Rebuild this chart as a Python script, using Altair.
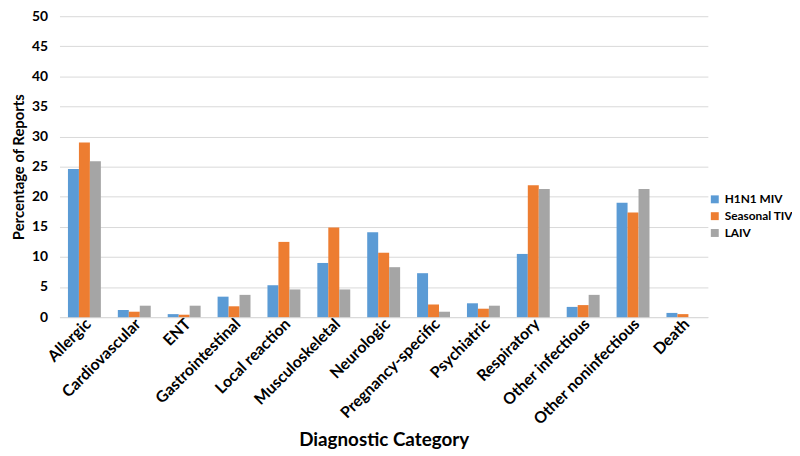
import altair as alt
import pandas as pd

categories = ["Allergic", "Cardiovascular", "ENT", "Gastrointestinal", "Local reaction",
              "Musculoskeletal", "Neurologic", "Pregnancy-specific", "Psychiatric",
              "Respiratory", "Other infectious", "Other noninfectious", "Death"]
series = ["H1N1 MIV", "Seasonal TIV", "LAIV"]
h1n1 = [24.6, 1.2, 0.5, 3.4, 5.3, 9.0, 14.1, 7.3, 2.3, 10.5, 1.7, 19.0, 0.7]
tiv = [29.0, 0.9, 0.4, 1.8, 12.5, 14.9, 10.7, 2.1, 1.4, 21.9, 2.0, 17.4, 0.5]
laiv = [25.9, 1.9, 1.9, 3.7, 4.6, 4.6, 8.3, 0.9, 1.9, 21.3, 3.7, 21.3, 0.0]
colors = ["#5B9BD5", "#ED7D31", "#A5A5A5"]

rows = []
for s, vals in zip(series, [h1n1, tiv, laiv]):
    for c, v in zip(categories, vals):
        rows.append({"Category": c, "Series": s, "Value": v})
df = pd.DataFrame(rows)

FONT = "Lato"

chart = alt.Chart(df).mark_bar().encode(
    x=alt.X("Category:N", sort=categories, title="Diagnostic Category",
            scale=alt.Scale(paddingInner=0.34, paddingOuter=0.17),
            axis=alt.Axis(labelAngle=-45, labelAlign="right", labelBaseline="middle",
                          labelFont=FONT, labelFontSize=16, labelFontWeight="bold",
                          labelColor="#000000", labelPadding=4, labelOffset=4,
                          ticks=False, domainColor="#D9D9D9",
                          titleFont=FONT, titleFontSize=19, titleFontWeight="bold",
                          titleColor="#000000", titleBaseline="middle", titleY=124)),
    xOffset=alt.XOffset("Series:N", sort=series),
    y=alt.Y("Value:Q", title="Percentage of Reports",
            scale=alt.Scale(domain=[0, 50]),
            axis=alt.Axis(values=list(range(0, 55, 5)), domain=False, ticks=False,
                          gridColor="#D9D9D9", labelFont=FONT, labelFontSize=14,
                          labelFontWeight="bold", labelColor="#000000", labelPadding=12,
                          labelBaseline="middle",
                          titleFont=FONT, titleFontSize=15, titleFontWeight="bold",
                          titleColor="#000000", titleX=-33)),
    color=alt.Color("Series:N", sort=series,
                    scale=alt.Scale(domain=series, range=colors),
                    legend=alt.Legend(title=None, orient="none", legendX=656, legendY=179,
                                      symbolType="square", symbolSize=64,
                                      symbolStrokeWidth=0, labelOffset=4,
                                      labelFont=FONT, labelFontSize=12,
                                      labelFontWeight="bold", labelColor="#000000",
                                      rowPadding=5)),
).properties(
    width=655, height=304,
    autosize=alt.AutoSizeParams(type="none"),
    padding={"left": 52, "top": 6, "right": 85, "bottom": 138},
).configure_view(stroke=None)

chart.save("out.html", embed_options={"renderer": "svg", "actions": False})
